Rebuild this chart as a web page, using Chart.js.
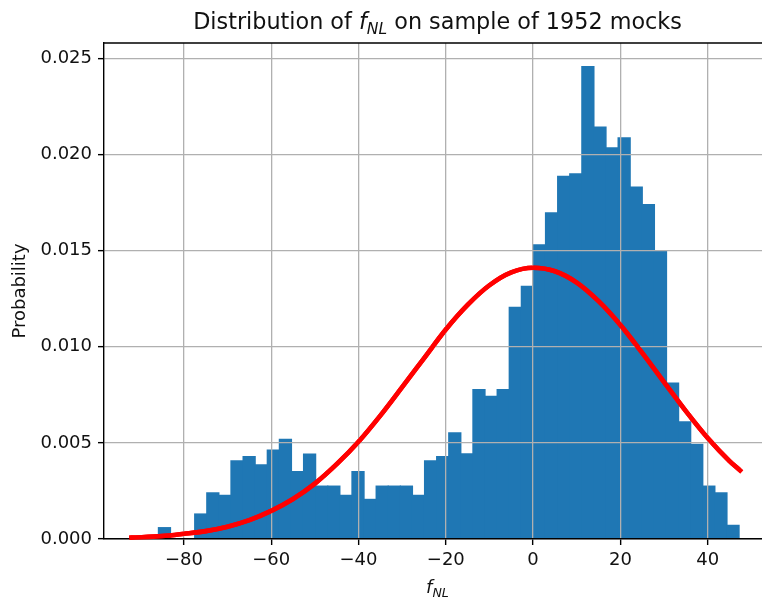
<!DOCTYPE html>
<html lang="en">
<head>
<meta charset="UTF-8">
<title>Distribution of fNL on sample of 1952 mocks</title>
<script src="https://cdn.jsdelivr.net/npm/chart.js@4"></script>
<style>
  html, body {
    margin: 0;
    padding: 0;
    background: #fff;
    overflow: hidden;
  }
  .wrap {
    width: 776px;
    height: 605px;
  }
</style>
</head>
<body>
<div class="wrap"><canvas id="fnlChart" width="776" height="605"></canvas></div>

<script>
  // histogram bins (centres) and their probability density
  const binCenters = [-84.45, -81.68, -78.91, -76.14, -73.37, -70.60, -67.83, -65.05,
                      -62.28, -59.51, -56.74, -53.97, -51.20, -48.42, -45.65, -42.88,
                      -40.11, -37.34, -34.57, -31.80, -29.02, -26.25, -23.48, -20.71,
                      -17.94, -15.17, -12.40, -9.62, -6.85, -4.08, -1.31, 1.46,
                      4.23, 7.01, 9.78, 12.55, 15.32, 18.09, 20.86, 23.63,
                      26.41, 29.18, 31.95, 34.72, 37.49, 40.26, 43.03, 45.80];
  const binValues = [0.00059, 0, 0, 0.00130, 0.00240, 0.00227, 0.00407, 0.00429,
                     0.00386, 0.00462, 0.00518, 0.00351, 0.00441, 0.00275, 0.00275, 0.00227,
                     0.00351, 0.00206, 0.00275, 0.00275, 0.00275, 0.00227, 0.00407, 0.00429,
                     0.00552, 0.00443, 0.00777, 0.00742, 0.00777, 0.01205, 0.01314, 0.01530,
                     0.01696, 0.01886, 0.01899, 0.02457, 0.02143, 0.02034, 0.02087, 0.01831,
                     0.01739, 0.01497, 0.00811, 0.00609, 0.00492, 0.00275, 0.00240, 0.00071];

  // red fitted curve
  const curveX = [-92, -85, -80, -75, -70, -65, -60, -55, -50, -45, -40, -35, -30, -25,
                  -20, -15, -10, -5, 0, 5, 10, 15, 20, 25, 30, 35, 40, 45, 47.4];
  const curveY = [0.00007, 0.00015, 0.00027, 0.00041, 0.00064, 0.00098, 0.00146, 0.00208,
                  0.00288, 0.00389, 0.00506, 0.00642, 0.00790, 0.00940, 0.01090, 0.01218,
                  0.01320, 0.01387, 0.01411, 0.01393, 0.01334, 0.01237, 0.01113, 0.00968,
                  0.00816, 0.00665, 0.00525, 0.00405, 0.00357];

  const xTicks = [-80, -60, -40, -20, 0, 20, 40];
  const yTicks = [0, 0.005, 0.010, 0.015, 0.020, 0.025];

  Chart.defaults.font.family = '"DejaVu Sans"';
  Chart.defaults.color = '#111';

  // draws mixed normal / italic / subscript text centred on cx
  function drawPieces(ctx, cx, baseY, size, pieces) {
    const fontOf = p => (p.italic ? 'italic ' : '') + (p.sub ? size * 0.7 : size) + 'px "DejaVu Sans"';
    let total = 0;
    const widths = pieces.map(p => {
      ctx.font = fontOf(p);
      const w = ctx.measureText(p.text).width;
      total += w;
      return w;
    });
    let x = cx - total / 2;
    ctx.fillStyle = '#111';
    ctx.textAlign = 'left';
    ctx.textBaseline = 'alphabetic';
    pieces.forEach((p, i) => {
      ctx.font = fontOf(p);
      ctx.fillText(p.text, x, baseY + (p.sub ? size * 0.22 : 0));
      x += widths[i];
    });
  }

  const extras = {
    id: 'extras',
    afterDraw(chart) {
      const ctx = chart.ctx;
      const area = chart.chartArea;

      // curve again, so it sits above the grid lines
      ctx.save();
      chart.getDatasetMeta(1).controller.draw();
      ctx.restore();

      // top / right spines
      ctx.save();
      ctx.strokeStyle = '#000';
      ctx.lineWidth = 1.4;
      ctx.beginPath();
      ctx.moveTo(area.left, area.top);
      ctx.lineTo(area.right, area.top);
      ctx.lineTo(area.right, area.bottom);
      ctx.stroke();
      ctx.restore();

      const cx = (area.left + area.right) / 2;
      ctx.save();
      drawPieces(ctx, cx, 29, 22.3, [
        {text: 'Distribution of '},
        {text: 'f', italic: true},
        {text: 'NL', italic: true, sub: true},
        {text: ' on sample of 1952 mocks'}
      ]);
      drawPieces(ctx, cx, 593, 18, [
        {text: 'f', italic: true},
        {text: 'NL', italic: true, sub: true}
      ]);
      ctx.restore();
    }
  };

  const ctx = document.getElementById('fnlChart').getContext('2d');

  new Chart(ctx, {
    type: 'bar',
    data: {
      datasets: [{
        type: 'bar',
        data: binCenters.map((x, i) => ({x: x, y: binValues[i]})),
        backgroundColor: '#1f77b4',
        borderWidth: 0,
        inflateAmount: 0.6,
        barPercentage: 1,
        categoryPercentage: 1,
        order: 2
      }, {
        type: 'line',
        data: curveX.map((x, i) => ({x: x, y: curveY[i]})),
        borderColor: '#ff0000',
        borderWidth: 4.6,
        borderCapStyle: 'square',
        pointRadius: 0,
        fill: false,
        cubicInterpolationMode: 'monotone',
        order: 1
      }]
    },
    options: {
      responsive: false,
      animation: false,
      layout: {
        padding: {top: 43, right: 5, left: 0, bottom: 0}
      },
      plugins: {
        legend: {display: false},
        tooltip: {enabled: false}
      },
      scales: {
        x: {
          type: 'linear',
          offset: false,
          min: -98.3,
          max: 54.5,
          afterBuildTicks: scale => { scale.ticks = xTicks.map(v => ({value: v})); },
          afterFit: scale => { scale.height = 66; },
          grid: {
            offset: false,
            color: '#b0b0b0',
            lineWidth: 1.3,
            z: 1,
            tickColor: '#000',
            tickWidth: 1.4,
            tickLength: 6
          },
          border: {color: '#000', width: 1.4, z: 2},
          ticks: {
            font: {size: 18},
            padding: 5,
            maxRotation: 0,
            callback: v => (v < 0 ? '\u2212' + Math.abs(v) : String(v))
          }
        },
        y: {
          min: 0,
          max: 0.0258,
          afterBuildTicks: scale => { scale.ticks = yTicks.map(v => ({value: v})); },
          afterFit: scale => { scale.width = 104; },
          grid: {
            color: '#b0b0b0',
            lineWidth: 1.3,
            z: 1,
            tickColor: '#000',
            tickWidth: 1.4,
            tickLength: 6
          },
          border: {color: '#000', width: 1.4, z: 2},
          ticks: {
            font: {size: 18},
            padding: 6,
            callback: v => v.toFixed(3)
          },
          title: {
            display: true,
            text: 'Probability',
            font: {size: 18},
            color: '#111',
            padding: {top: 9.5, bottom: 0}
          }
        }
      }
    },
    plugins: [extras]
  });
</script>
</body>
</html>
